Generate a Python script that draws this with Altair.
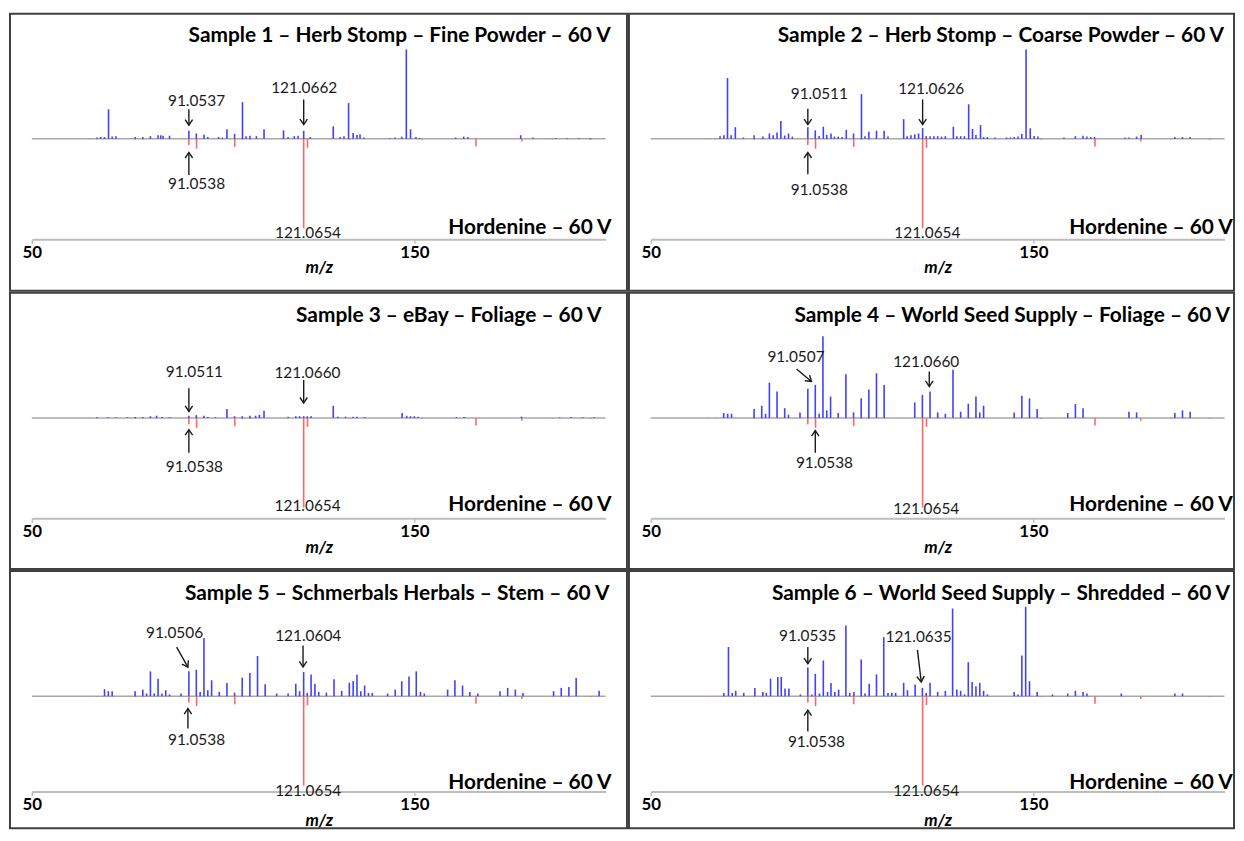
import math
import altair as alt
import pandas as pd

FONT = "Lato"
BLUE = "#4040ff"
RED = "#ff6666"
INK = "#1a1a1a"

MZ_DOMAIN = [50, 200]
INT_DOMAIN = [-100, 100]
X_RANGE = [22, 599.5]
Y_RANGE = [216, 36]

titles = [
    "Sample 1 – Herb Stomp – Fine Powder – 60 V",
    "Sample 2 – Herb Stomp – Coarse Powder – 60 V",
    "Sample 3 – eBay – Foliage – 60 V",
    "Sample 4 – World Seed Supply – Foliage – 60 V",
    "Sample 5 – Schmerbals Herbals – Stem – 60 V",
    "Sample 6 – World Seed Supply – Shredded – 60 V",
]
ref_title = "Hordenine – 60 V"

s1_mz = [67, 68, 69, 70.05, 71, 72, 77, 79, 81, 83, 83.7, 84.3, 86, 91.05, 93, 95, 96, 98.8, 99.8,
         101, 103, 105.07, 106, 107, 108.7, 110.7, 115.8, 117, 118.6, 119.6, 121.07, 122.8,
         128.8, 130.6, 131.6, 132.8, 134, 135, 135.8, 136.8, 143.6, 145, 146.7, 147.9, 149, 150.4, 151.4,
         160.8, 162.9, 164, 177.8, 181, 187, 190, 193, 196]
s1_int = [1.5, 2, 2, 33, 2.5, 3, 2, 2, 3, 4, 4, 3.5, 3.5, 9, 6, 4.5, 2, 2, 1.5,
          10.7, 5.5, 41, 3, 3.5, 3, 10.7, 9.5, 2, 3, 3.5, 9, 2,
          14, 2, 3, 40, 6.6, 4.4, 4.8, 1.5, 1, 1.5, 2.5, 100, 10.7, 2, 1,
          1.5, 2.5, 2, 4, 1.5, 0.8, 0.8, 0.8, 0.8]

s2_mz = [68.1, 69.1, 70.05, 71, 72.1, 74.2, 77, 79.3, 81, 82, 83, 84, 85, 86, 87,
         91.05, 93, 94, 95.1, 96, 97.1, 98, 99, 100, 101.1, 103, 105.07, 106, 107, 109, 111, 112,
         116.1, 117, 118, 119, 120, 121.06, 122, 123, 124, 125, 126, 127,
         129.1, 130, 131, 132, 133.1, 134.1, 135, 136.2, 137, 138, 140,
         143, 144, 145, 146, 147, 148.1, 149.2, 150.2, 151.2, 158, 161, 163, 164, 165, 166,
         174, 175, 177, 178.2, 187, 189, 191]
s2_int = [3, 4, 68, 4, 13, 1.5, 4, 2.5, 6, 4, 7, 20, 3.7, 6, 2.5,
          13, 9.5, 3.3, 13.6, 4.4, 6, 2.5, 2.5, 2, 10, 6, 50, 3, 8, 9, 9, 2.5,
          22, 3, 4, 5, 6, 12, 3, 3, 3, 3, 2.5, 3,
          13.6, 3, 3, 3, 38.6, 11, 4.4, 15.4, 2, 2, 1.5,
          1.5, 1.5, 2, 2.5, 5.5, 100, 11.8, 3.3, 2.6, 1.5, 3, 3.5, 2.5, 2, 2,
          1.5, 1.5, 2.5, 4.4, 2, 2, 2]

s3_mz = [67, 70, 72, 75, 77, 79, 81, 82.6, 84, 86, 91.05, 93, 95, 96, 98,
         101, 103, 105, 107, 108.5, 109.5, 110.7, 117, 119, 120, 121.07, 122, 123,
         128.8, 130, 132, 134, 135, 137, 146.8, 148, 149, 150, 151, 161, 163, 178, 188, 191, 194, 197]
s3_int = [0.8, 0.8, 0.6, 0.8, 1, 1, 2, 2.6, 1, 1, 2.6, 3.3, 2.6, 1, 1,
          10, 2, 2, 2.5, 2.5, 3.5, 8, 1.5, 2, 2, 2, 2, 2,
          13.6, 1.5, 1.5, 1.5, 1.5, 1, 5.5, 2.5, 2, 2, 1.5, 1, 1, 1.5, 0.8, 0.8, 0.8, 0.8]

s4_mz = [69.05, 70.1, 71.1, 77, 79, 80, 81, 83, 85, 86, 89, 91.05, 93, 94, 95, 96, 97, 99,
         101, 103, 105, 107, 109, 111, 119, 121, 123, 125, 127, 129, 131, 133, 135, 136, 137,
         145, 147, 149, 151, 159, 161, 163, 175, 177, 187, 189, 191]
s4_int = [5.6, 4.8, 4.8, 10, 13.7, 4.8, 39.6, 29.6, 11, 3.7, 6.3, 32.6, 37, 4.8, 91.5, 8.5, 24, 5.6,
          49, 6.3, 22, 32, 50, 37, 17.4, 26, 29.6, 6.3, 4.8, 54, 7, 16, 24, 6.3, 13.7,
          6.3, 25, 22, 10, 5.6, 15.6, 11, 7, 6.3, 5.6, 8.5, 7]

s5_mz = [69, 70, 71, 77, 79, 80, 81, 82, 83, 84, 85, 86, 89, 91.05, 93, 94, 95, 96, 97, 99,
         101, 103, 105, 107, 109, 111, 114, 117, 119, 120, 121.06, 122, 123, 124, 125, 127, 129, 131,
         133, 134, 135, 136, 137, 138, 139, 143, 145, 146.7, 148.6, 150.5, 151.6, 152.6,
         158.7, 160.6, 162.6, 164.5, 166.6, 172.4, 174.4, 176.4, 178.4, 186.4, 188.4, 190.4, 192.3, 198.3]
s5_int = [7.8, 5.6, 5.6, 5.6, 7.4, 3, 27.8, 3, 19.6, 3, 6.7, 2, 3, 27.8, 29.6, 4.8, 65, 6.7, 17.8, 4.8,
          14.8, 4, 20.7, 26, 45, 13.3, 3, 3, 14, 5.6, 27, 3.7, 24.4, 14, 4.8, 4, 19, 6,
          15, 17, 24, 5.6, 12, 3.7, 3.7, 3, 7.4, 16.7, 22, 27.8, 4.8, 3,
          7.4, 17.8, 12, 4.8, 3, 5.6, 9.3, 7.4, 3.7, 5.6, 9.3, 10.4, 20.4, 6]

s6_mz = [69.1, 70.3, 71.3, 72.2, 74.3, 77.2, 79.3, 80.2, 81.3, 83.2, 84.1, 85.1, 86.1, 89.1,
         91.05, 92.1, 93, 94.1, 95.1, 96.2, 97.1, 98.1, 99.1, 101, 102, 103.1, 105, 106, 107.1, 109, 110.9,
         112, 113, 114, 116.1, 117.1, 119.1, 121, 122, 123, 125, 127, 128.9,
         130, 131, 132, 133, 134, 135, 136, 137, 138, 145, 146, 147, 148, 149, 151, 155,
         159, 161, 163, 164, 173, 187, 189]
s6_int = [3.7, 55, 3.7, 6, 3.7, 9.3, 4.8, 3.7, 19.6, 21.5, 21.5, 8.5, 8.5, 2,
          32, 2, 25, 3, 40, 4.8, 14.8, 4.8, 7.4, 79, 3.7, 4.8, 41, 3, 14, 24.4, 66,
          3.7, 3.7, 3.7, 15, 6.7, 13, 9.3, 3.7, 15, 4.8, 6, 98,
          7.4, 6, 2, 38, 16, 11, 15, 6, 2, 4.8, 2, 45.6, 100, 16.7, 4.8, 2,
          3, 6, 4.8, 3, 3, 3, 3]

# Hordenine reference spectrum (plotted downward)
ref_mz = [65.04, 67.05, 77.04, 79.05, 91.05, 93.07, 103.05, 105.07, 107.05, 121.065, 122.07,
          133.06, 152.06, 166.12, 178.1, 186.1, 196.1]
ref_int = [-0.5, -0.5, -1, -0.8, -7, -11, -9, -1, -1, -100, -10,
           -1, -1, -8.5, -3, -0.6, -1]

# annotations: (label, label m/z, label intensity, arrow start m/z, start int, arrow tip m/z, tip int)
ann = [
    [("91.0537", 93.06, 42.6, 91.05, 33, 91.05, 15.2),
     ("121.0662", 121.2, 56.7, 121.07, 44, 121.07, 15.9),
     ("91.0538", 93.06, -50.7, 91.05, -40.4, 91.05, -15.2)],
    [("91.0511", 94.05, 50.4, 91.05, 33.7, 91.05, 15.9),
     ("121.0626", 123.3, 55.2, 121.06, 44, 121.06, 15.9),
     ("91.0538", 94.05, -57, 91.05, -39.6, 91.05, -15.2)],
    [("91.0511", 92.5, 51.9, 91.05, 33.3, 91.05, 7.4),
     ("121.0660", 122.05, 50.7, 121.07, 42.6, 121.07, 16.7),
     ("91.0538", 92.5, -54.8, 91.05, -38.9, 91.05, -13)],
    [("91.0507", 87.95, 68.6, 88.1, 54.8, 92.0, 40.8),
     ("121.0660", 122.0, 63, 122.8, 51.9, 122.8, 35.2),
     ("91.0538", 95.4, -50, 93.0, -38.9, 93.0, -14)],
    [("91.0506", 87.3, 70.3, 87.85, 54.8, 90.8, 32.6),
     ("121.0604", 122.25, 67, 120.9, 56.7, 120.9, 32.6),
     ("91.0538", 93.06, -48.9, 90.8, -36, 90.8, -13.8)],
    [("91.0535", 91.0, 67.8, 91.05, 54.9, 91.05, 36.3),
     ("121.0635", 120.0, 66, 119.7, 51.9, 120.7, 16),
     ("91.0538", 93.3, -51.4, 91.05, -39.6, 91.05, -15.6)],
]
# label of the reference base peak: (label, m/z, intensity)
ref_labels = [("121.0654", 122.2, -105), ("121.0654", 122.3, -105), ("121.0654", 122.1, -98),
              ("121.0654", 122.0, -101.8), ("121.0654", 122.25, -105.6), ("121.0654", 122.0, -106)]

spectra = [(s1_mz, s1_int), (s2_mz, s2_int), (s3_mz, s3_int),
           (s4_mz, s4_int), (s5_mz, s5_int), (s6_mz, s6_int)]

# panel layout: cell width, height, axis offset, title right x / y, reference label right x / y
cell_w = [621, 609, 621, 609, 621, 609]
cell_h = [279, 279, 278, 278, 259, 259]
axis_off = [-52, -52, -51, -51, -37, -37]
title_pos = [(604.6, 22.5), (599, 22.5), (595.4, 23.3), (605, 23.3), (603.4, 23), (605, 23)]
reft_pos = [(605.5, 215.5), (607.7, 215.5), (605.5, 214), (607.7, 213.5), (605.5, 213.7), (607.7, 213.7)]

px_x = (X_RANGE[1] - X_RANGE[0]) / (MZ_DOMAIN[1] - MZ_DOMAIN[0])
px_y = (Y_RANGE[0] - Y_RANGE[1]) / (INT_DOMAIN[1] - INT_DOMAIN[0])

ARROW = "M-1,-1.5L0,0L1,-1.5"


def panel(k):
    xs = alt.Scale(domain=MZ_DOMAIN, range=X_RANGE, nice=False, zero=False)
    ys = alt.Scale(domain=INT_DOMAIN, range=Y_RANGE, nice=False, zero=False)
    xaxis = alt.Axis(values=[50, 150], offset=axis_off[k], grid=False,
                     domainColor="#bdbdbd", domainWidth=2, tickColor="#bdbdbd",
                     tickWidth=1.5, tickSize=4, labelFont=FONT, labelFontSize=17,
                     labelFontWeight="bold", labelColor="#000000", labelPadding=1,
                     labelFlush=False, labelOverlap=False,
                     title="m/z", titleFont=FONT, titleFontSize=17, titleFontWeight="bold",
                     titleFontStyle="italic", titleColor="#000000", titlePadding=0)

    def X(f):
        return alt.X(f, type="quantitative", scale=xs, axis=xaxis)

    def Y(f):
        return alt.Y(f, type="quantitative", scale=ys, axis=None)

    mz, it = spectra[k]
    sample = pd.DataFrame({"mz": mz, "inten": it, "base": [0] * len(mz)})
    ref = pd.DataFrame({"mz": ref_mz, "inten": ref_int, "base": [0] * len(ref_mz)})
    base = pd.DataFrame({"x1": [MZ_DOMAIN[0]], "x2": [MZ_DOMAIN[1]], "y": [0]})

    rows = []
    for (t, lm, li, m1, i1, m2, i2) in ann[k]:
        dx = (m2 - m1) * px_x
        dy = -(i2 - i1) * px_y
        ang = math.degrees(math.atan2(-dx, dy)) % 360
        rows.append({"t": t, "lm": lm, "li": li, "m1": m1, "i1": i1, "m2": m2, "i2": i2, "ang": ang})
    adf = pd.DataFrame(rows)
    rl = ref_labels[k]
    rdf = pd.DataFrame({"t": [rl[0]], "lm": [rl[1]], "li": [rl[2]]})
    tdf = pd.DataFrame({"t": [titles[k]]})
    hdf = pd.DataFrame({"t": [ref_title]})

    layers = [
        alt.Chart(base).mark_rule(color="#a8a8a8", strokeWidth=1.5).encode(
            x=X("x1"), x2="x2", y=Y("y")),
        alt.Chart(ref).mark_rule(color=RED, strokeWidth=1.6).encode(
            x=X("mz"), y=Y("inten"), y2="base"),
        alt.Chart(sample).mark_rule(color=BLUE, strokeWidth=1.6).encode(
            x=X("mz"), y=Y("inten"), y2="base"),
        alt.Chart(adf).mark_rule(color=INK, strokeWidth=1.4).encode(
            x=X("m1"), y=Y("i1"), x2="m2", y2="i2"),
        alt.Chart(adf).mark_point(shape=ARROW, size=56, filled=False, color=INK,
                                  strokeWidth=1.4, opacity=1).encode(
            x=X("m2"), y=Y("i2"), angle=alt.Angle("ang:Q", scale=None)),
        alt.Chart(adf).mark_text(font=FONT, fontSize=15.5, color=INK).encode(
            x=X("lm"), y=Y("li"), text="t:N"),
        alt.Chart(rdf).mark_text(font=FONT, fontSize=15.5, color=INK).encode(
            x=X("lm"), y=Y("li"), text="t:N"),
        alt.Chart(tdf).mark_text(font=FONT, fontSize=21, fontWeight="bold", color="#000000",
                                 align="right", baseline="middle").encode(
            x=alt.value(title_pos[k][0]), y=alt.value(title_pos[k][1]), text="t:N"),
        alt.Chart(hdf).mark_text(font=FONT, fontSize=21, fontWeight="bold", color="#000000",
                                 align="right", baseline="middle").encode(
            x=alt.value(reft_pos[k][0]), y=alt.value(reft_pos[k][1]), text="t:N"),
    ]
    return alt.layer(*layers).properties(width=cell_w[k], height=cell_h[k])


rows_ = [alt.hconcat(panel(2 * r), panel(2 * r + 1), spacing=0) for r in range(3)]
chart = alt.vconcat(*rows_, spacing=0).properties(
    padding={"left": 1, "top": 2, "right": 1, "bottom": 0}
).configure_view(stroke="#404040", strokeWidth=2)

chart.save("out.html", embed_options={"renderer": "svg", "actions": False})
